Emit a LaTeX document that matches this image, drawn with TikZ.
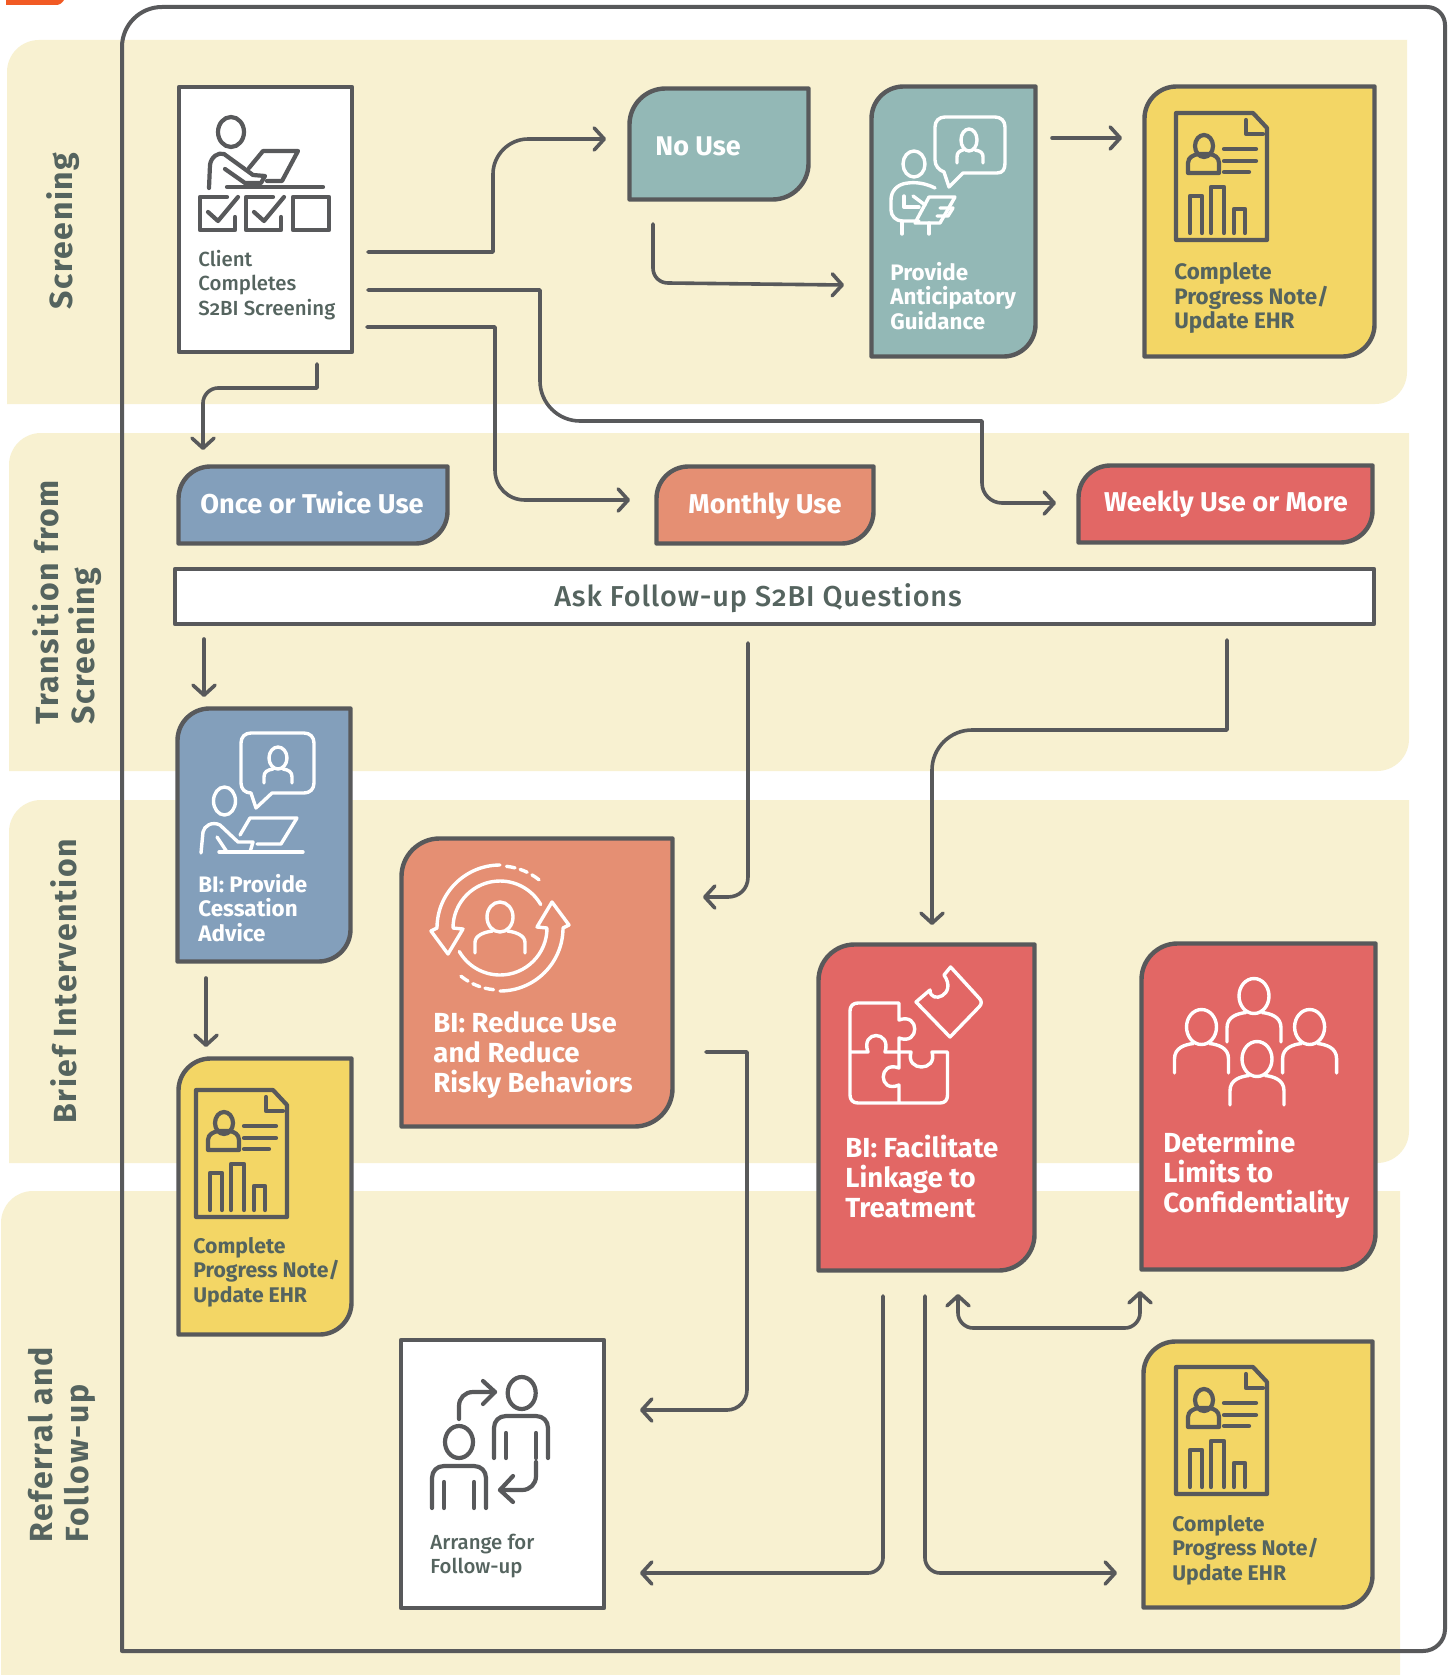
\documentclass[tikz,border=0pt]{standalone}
\usepackage{fontspec}
\setmainfont{Fira Sans}[Numbers=OldStyle]
\newfontfamily\medfont{Fira Sans Medium}[Numbers=OldStyle]
\usetikzlibrary{arrows.meta}
\definecolor{ink}{HTML}{58595B}
\definecolor{txtdark}{HTML}{55645F}
\definecolor{band}{HTML}{F8F1D1}
\definecolor{teal}{HTML}{93B8B6}
\definecolor{gold}{HTML}{F3D665}
\definecolor{steel}{HTML}{839FBB}
\definecolor{salmon}{HTML}{E58F73}
\definecolor{coral}{HTML}{E26765}
\definecolor{flame}{HTML}{F15A24}
\tikzset{
  cardline/.style={draw=ink,line width=2.2pt,line join=round},
  plainbox/.style={draw=ink,line width=2.2pt,fill=white,line join=round},
  flow/.style={draw=ink,line width=1.8pt,line cap=round,line join=round,-{Straight Barb[length=5pt,width=11pt,round]}},
  flowboth/.style={draw=ink,line width=1.8pt,line cap=round,line join=round,{Straight Barb[length=5pt,width=11pt,round]}-{Straight Barb[length=5pt,width=11pt,round]}},
  icond/.style={draw=ink,line width=2.1pt,line cap=round,line join=round},
  iconw/.style={draw=white,line width=1.7pt,line cap=round,line join=round},
  smalltxt/.style={font=\bfseries\fontsize{11.2pt}{12.3pt}\selectfont,align=left,anchor=west,inner sep=0pt},
  notetxt/.style={font=\bfseries\fontsize{10.6pt}{12.3pt}\selectfont,align=left,anchor=west,inner sep=0pt},
  medtxt/.style={font=\medfont\fontsize{10.2pt}{12.3pt}\selectfont,align=left,anchor=west,inner sep=0pt},
  bigtxt/.style={font=\bfseries\fontsize{13.8pt}{15pt}\selectfont,align=left,anchor=west,inner sep=0pt},
  pilltxt/.style={font=\bfseries\fontsize{13.6pt}{15pt}\selectfont,text=white,anchor=center,inner sep=0pt},
  lanetxt/.style={font=\bfseries\fontsize{16pt}{18pt}\selectfont\addfontfeature{LetterSpace=5},text=txtdark,rotate=90,align=left,anchor=west,inner sep=0pt},
}
% card with rounded top-left and bottom-right corners: name,x1,y1,x2,y2,fill,r
\newcommand{\card}[7]{%
  \path[cardline,fill=#6] ({#2+1.5},{#5-1.5}) -- ({#2+1.5},{#3+1.5+#7}) arc[start angle=180,end angle=270,radius=#7] -- ({#4-1.5},{#3+1.5}) -- ({#4-1.5},{#5-1.5-#7}) arc[start angle=0,end angle=90,radius=#7] -- cycle;
  \path ({(#2+#4)/2},{(#3+#5)/2}) coordinate (#1);
}
\newcommand{\lane}[5]{%
  \path[fill=band] (#1,#4) -- (#1,{#2+#5}) arc[start angle=180,end angle=270,radius=#5] -- (#3,#2) -- (#3,{#4-#5}) arc[start angle=0,end angle=90,radius=#5] -- cycle;
}
% head + shoulders: cx,cy,rx,ry,halfwidth,bottom offset,style
\newcommand{\persona}[7]{%
  \draw[#7] (#1,#2) ellipse[x radius=#3,y radius=#4];
  \draw[#7] ({#1-#5},{#2+#6}) -- ({#1-#5},{#2+#4+0.5*(#6-#4)}) .. controls ({#1-#5},{#2+#4+3}) and ({#1-0.6*#5},{#2+#4}) .. ({#1-0.3*#5},{#2+#4-1});
  \draw[#7] ({#1+#5},{#2+#6}) -- ({#1+#5},{#2+#4+0.5*(#6-#4)}) .. controls ({#1+#5},{#2+#4+3}) and ({#1+0.6*#5},{#2+#4}) .. ({#1+0.3*#5},{#2+#4-1});
}
\newcommand{\reporticon}[2]{%
  \begin{scope}[shift={(#1,#2)}]
    \draw[icond] (0,0) -- (77,0) -- (91,15) -- (91,127) -- (0,127) -- cycle;
    \draw[icond] (70,7) -- (70,21) -- (87,21);
    \draw[icond] (28,33) ellipse[x radius=9,y radius=11];
    \draw[icond] (12,60) -- (12,50) .. controls (12,44) and (18,42) .. (22,41) -- (34,41) .. controls (38,42) and (43,44) .. (43,50) -- (43,60) -- cycle;
    \draw[icond] (48,36) -- (80,36) (48,48) -- (80,48) (48,59) -- (73,59);
    \draw[icond] (14,120) -- (14,83) -- (26,83) -- (26,120);
    \draw[icond] (35,120) -- (35,74) -- (48,74) -- (48,120);
    \draw[icond] (58,120) -- (58,96) -- (69,96) -- (69,120);
  \end{scope}
}
\begin{document}
\begin{tikzpicture}[x=0.5pt,y=-0.5pt]
\useasboundingbox (0,0) rectangle (1450,1675);
\fill[white] (0,0) rectangle (1450,1675);
% orange mark
\path[fill=flame] (6,0) -- (6,5) -- (56,5) .. controls (60,5) and (62,3) .. (64,0) -- cycle;
% lanes
\lane{7}{40}{1407}{404}{32}
\lane{9}{433}{1409}{771}{32}
\lane{9}{800}{1409}{1163}{32}
\path[fill=band] (1,1675) -- (1,1223) arc[start angle=180,end angle=270,radius=32] -- (1400,1191) -- (1400,1675) -- cycle;
% frame
\draw[draw=ink,line width=2pt,line join=round] (122,1651) -- (122,47) arc[start angle=180,end angle=270,radius=40] -- (1427,7) arc[start angle=270,end angle=360,radius=18] -- (1445,1629) arc[start angle=0,end angle=90,radius=22] -- cycle;
% lane titles
\node[lanetxt] (laneA) at (63,310) {Screening};
\node[lanetxt] (laneB) at (67,725) {Transition from\\Screening};
\node[lanetxt] (laneC) at (64,1124) {Brief Intervention};
\node[lanetxt] (laneD) at (62,1543) {Referral and\\Follow-up};
% cards
\draw[plainbox] (179,87) rectangle (352,352);
\card{nouse}{628}{87}{810}{201}{teal}{36}
\card{guidance}{870}{85}{1037}{358}{teal}{32}
\card{noteA}{1143}{85}{1376}{358}{gold}{32}
\card{once}{177}{465}{449}{545}{steel}{32}
\card{monthly}{655}{465}{875}{545}{salmon}{32}
\card{weekly}{1077}{464}{1374}{544}{coral}{32}
\draw[plainbox] (175,569) rectangle (1374,624);
\card{cessation}{176}{707}{352}{963}{steel}{32}
\card{reduce}{400}{837}{674}{1128}{salmon}{38}
\card{noteB}{177}{1057}{353}{1336}{gold}{32}
\card{linkage}{817}{943}{1036}{1272}{coral}{36}
\card{limits}{1140}{942}{1377}{1271}{coral}{36}
\card{noteC}{1142}{1340}{1374}{1609}{gold}{32}
\draw[plainbox] (401,1340) rectangle (604,1608);
% card texts
\node[medtxt,text=txtdark] (clientT) at (198,285) {Client\\Completes\\S2BI Screening};
\node[smalltxt,font=\bfseries\fontsize{13.5pt}{15pt}\selectfont,text=white] (nouseT) at (655,146) {No Use};
\node[smalltxt,text=white] (guidT) at (890,296) {Provide\\Anticipatory\\Guidance};
\node[smalltxt,text=txtdark] (noteAT) at (1174,298) {Complete\\Progress Note/\\Update EHR};
\node[pilltxt] (onceT) at (312,503) {Once or Twice Use};
\node[pilltxt] (monthT) at (765,506) {Monthly Use};
\node[pilltxt] (weekT) at (1226,504) {Weekly Use or More};
\node[pilltxt,font=\medfont\fontsize{14.4pt}{15pt}\selectfont\addfontfeature{LetterSpace=3},text=txtdark] (askT) at (758,598) {Ask Follow-up S2BI Questions};
\node[smalltxt,text=white] (cessT) at (198,908) {BI: Provide\\Cessation\\Advice};
\node[bigtxt,text=white] (reduceT) at (433,1055) {BI: Reduce Use\\and Reduce\\Risky Behaviors};
\node[notetxt,text=txtdark] (noteBT) at (193,1272) {Complete\\Progress Note/\\Update EHR};
\node[bigtxt,text=white] (linkT) at (845,1177) {BI: Facilitate\\Linkage to\\Treatment};
\node[bigtxt,text=white] (limitsT) at (1163,1174) {Determine\\Limits to\\Confidentiality};
\node[notetxt,text=txtdark] (noteCT) at (1172,1550) {Complete\\Progress Note/\\Update EHR};
\node[medtxt,text=txtdark] (arrT) at (430,1556) {Arrange for\\Follow-up};
% icons: reports
\reporticon{1176}{113}
\reporticon{196}{1090}
\reporticon{1176}{1367}
% icon: client at laptop with checkboxes
\draw[icond] (231,132) ellipse[x radius=13,y radius=15];
\draw[icond] (209,188) -- (210,165) .. controls (211,157) and (218,152) .. (224,154) -- (253,175) -- (265,176) -- (261,183) -- (245,183) -- (225,169);
\draw[icond] (249,168) -- (263,151) -- (298,151) -- (282,181) -- (267,181);
\draw[icond] (227,187) -- (323,187);
\draw[icond] (227,197) -- (200,197) -- (200,230) -- (235,230) -- (235,217);
\draw[icond] (208,212) -- (218,221) -- (238,197);
\draw[icond] (273,197) -- (246,197) -- (246,230) -- (281,230) -- (281,217);
\draw[icond] (254,212) -- (264,221) -- (284,197);
\draw[icond] (293,197) rectangle (329,230);
% icon: guidance
\draw[iconw] (963,173) -- (997,173) .. controls (1003,173) and (1005,169) .. (1005,163) -- (1005,127) .. controls (1005,121) and (1001,117) .. (995,117) -- (945,117) .. controls (939,117) and (935,121) .. (935,127) -- (935,160) .. controls (935,166) and (939,170) .. (944,172) -- (949,187) -- cycle;
\draw[iconw] (969,140) ellipse[x radius=8,y radius=11];
\draw[iconw] (957,163) -- (957,157) .. controls (957,153) and (959,151) .. (963,150);
\draw[iconw] (983,163) -- (983,157) .. controls (983,153) and (981,151) .. (975,150);
\draw[iconw] (914,164) ellipse[x radius=11,y radius=13];
\draw[iconw] (935,188) .. controls (925,183) and (915,182) .. (908,183) .. controls (897,184) and (891,191) .. (891,200) -- (891,210) .. controls (891,216) and (896,221) .. (902,221) -- (919,221);
\draw[iconw] (902,221) -- (902,234) (929,223) -- (929,234);
\draw[iconw] (904,196) -- (904,207) -- (919,207);
\draw[iconw] (913,196) -- (925,205);
\draw[iconw] (929,197) -- (955,197) -- (940,223) -- (915,223) -- cycle;
\draw[iconw] (940,208) -- (953,208) -- (948,216) -- (937,216);
% icon: cessation
\draw[iconw] (272,793) -- (304,793) .. controls (310,793) and (314,789) .. (314,783) -- (314,743) .. controls (314,737) and (310,733) .. (304,733) -- (251,733) .. controls (245,733) and (241,737) .. (241,743) -- (241,783) .. controls (241,789) and (245,793) .. (251,793) -- (256,808) -- cycle;
\draw[iconw] (278,758) ellipse[x radius=9,y radius=11];
\draw[iconw] (264,783) -- (264,777) .. controls (264,772) and (267,770) .. (273,769);
\draw[iconw] (292,783) -- (292,777) .. controls (292,772) and (289,770) .. (283,769);
\draw[iconw] (224.5,801) ellipse[x radius=11,y radius=14];
\draw[iconw] (201,853) -- (203,832) .. controls (204,826) and (212,821) .. (220,825) -- (238,842) -- (253,842) -- (250,852);
\draw[iconw] (217,837) -- (227,852);
\draw[iconw] (240,835) -- (250,818) -- (297,818) -- (281,844) -- (257,844);
\draw[iconw] (219,852) -- (303,852);
% icon: cycle
\persona{500}{917}{13}{15}{25}{36}{iconw}
\foreach \rr in {0,180}{
  \begin{scope}[rotate around={\rr:(500,928)}]
    \draw[iconw] (500,928) ++(270:63) arc[start angle=270,end angle=180,radius=63] -- (431,931) -- (448,954) -- (463,929) -- (453,928) arc[start angle=180,end angle=330,radius=47];
    \draw[iconw] (500,928) ++(276:62) arc[start angle=276,end angle=284,radius=62];
    \draw[iconw] (500,928) ++(289:62) arc[start angle=289,end angle=296,radius=62];
    \draw[iconw] (500,928) ++(301:62) arc[start angle=301,end angle=309,radius=62];
  \end{scope}
}
% icon: puzzle
\draw[iconw] (899,1103) -- (858,1103) .. controls (853,1103) and (850,1100) .. (850,1095) -- (850,1011) .. controls (850,1006) and (853,1003) .. (858,1003) -- (899,1003) -- (899,1020) .. controls (920,1012) and (920,1046) .. (899,1038) -- (899,1068) .. controls (878,1060) and (878,1094) .. (899,1085) -- (899,1103) -- (940,1103) .. controls (945,1103) and (947.5,1100) .. (947.5,1095) -- (947.5,1052) -- (932,1052) .. controls (938,1072) and (905,1072) .. (911,1052) -- (885,1052) .. controls (892,1030) and (860,1030) .. (868,1052) -- (850,1052);
\draw[iconw] (916,1002) -- (930,990) .. controls (930,1005) and (958,995) .. (944,975) -- (950.6,967) -- (979,998) .. controls (982,1001) and (982,1004) .. (979,1007) -- (950,1037) -- cycle;
% icon: people
\persona{1254}{996}{15}{17.5}{27}{46}{iconw}
\persona{1201.5}{1027}{15}{17.5}{27}{46}{iconw}
\persona{1309.6}{1027}{15}{17.5}{27}{46}{iconw}
\persona{1257}{1059}{15}{17.5}{27}{46}{iconw}
% icon: follow-up
\draw[icond] (521.7,1393) ellipse[x radius=14,y radius=16];
\draw[icond] (494,1458) -- (494,1428) .. controls (494,1421) and (499,1416) .. (506,1416) -- (536,1416) .. controls (543,1416) and (548,1421) .. (548,1428) -- (548,1458);
\draw[icond] (506,1433) -- (506,1458) (536,1433) -- (536,1458);
\draw[icond] (459,1442) ellipse[x radius=14,y radius=16];
\draw[icond] (432,1508) -- (432,1478) .. controls (432,1471) and (437,1466) .. (444,1466) -- (474,1466) .. controls (481,1466) and (486,1471) .. (486,1478) -- (486,1508);
\draw[icond] (444,1482) -- (444,1508) (474,1482) -- (474,1508);
\draw[icond] (459,1419) -- (459,1406) .. controls (459,1398) and (465,1392) .. (473,1392) -- (495,1392);
\draw[icond] (483,1381) -- (495,1392) -- (483,1404);
\draw[icond] (536,1462) -- (536,1476) .. controls (536,1484) and (530,1490) .. (522,1490) -- (500,1490);
\draw[icond] (513,1476) -- (500,1490) -- (513,1502);
% connector ends
\coordinate (a1) at (368,252); \coordinate (b1) at (606,139);
\coordinate (a2) at (368,290); \coordinate (b2) at (1056,503);
\coordinate (a3) at (367,327); \coordinate (b3) at (630,500);
\coordinate (a4) at (317,364); \coordinate (b4) at (203,450);
\coordinate (a5) at (653,224); \coordinate (b5) at (844,285);
\coordinate (a6) at (1052,138); \coordinate (b6) at (1122,138);
\coordinate (a7) at (204,639); \coordinate (b7) at (204,697);
\coordinate (a8) at (748,643); \coordinate (b8) at (703,897);
\coordinate (a9) at (1227,640); \coordinate (b9) at (932,925);
\coordinate (a10) at (206,978); \coordinate (b10) at (206,1047);
\coordinate (a11) at (706,1052); \coordinate (b11) at (640,1410);
\coordinate (a12) at (883,1296); \coordinate (b12) at (640,1573);
\coordinate (a13) at (925,1296); \coordinate (b13) at (1117,1573);
\coordinate (a14) at (958,1294); \coordinate (b14) at (1140,1291);
% connectors
\draw[flow] (a1) -- (493,252) -- (493,174) .. controls (493,155) and (509,139) .. (528,139) -- (b1);
\draw[flow] (a2) -- (540,290) -- (540,381) .. controls (540,403) and (558,421) .. (580,421) -- (982,421) -- (982,483) .. controls (982,494) and (991,503) .. (1002,503) -- (b2);
\draw[flow] (a3) -- (495,327) -- (495,470) .. controls (495,487) and (508,500) .. (525,500) -- (b3);
\draw[flow] (a4) -- (317,388) -- (218,388) .. controls (210,388) and (203,395) .. (203,403) -- (b4);
\draw[flow] (a5) -- (653,268) .. controls (653,277) and (660,283) .. (668,283) -- (b5);
\draw[flow] (a6) -- (b6);
\draw[flow] (a7) -- (b7);
\draw[flow] (a8) -- (748,877) .. controls (748,889) and (739,897) .. (728,897) -- (b8);
\draw[flow] (a9) -- (1227,730) -- (972,730) .. controls (950,730) and (932,748) .. (932,770) -- (b9);
\draw[flow] (a10) -- (b10);
\draw[flow] (a11) -- (747,1052) -- (747,1390) .. controls (747,1401) and (738,1410) .. (727,1410) -- (b11);
\draw[flow] (a12) -- (883,1558) .. controls (883,1566) and (876,1573) .. (868,1573) -- (b12);
\draw[flow] (a13) -- (925,1558) .. controls (925,1566) and (932,1573) .. (940,1573) -- (b13);
\draw[flowboth] (a14) -- (958,1313) .. controls (958,1321) and (965,1328) .. (973,1328) -- (1125,1328) .. controls (1133,1328) and (1140,1321) .. (1140,1313) -- (b14);
\end{tikzpicture}
\end{document}
